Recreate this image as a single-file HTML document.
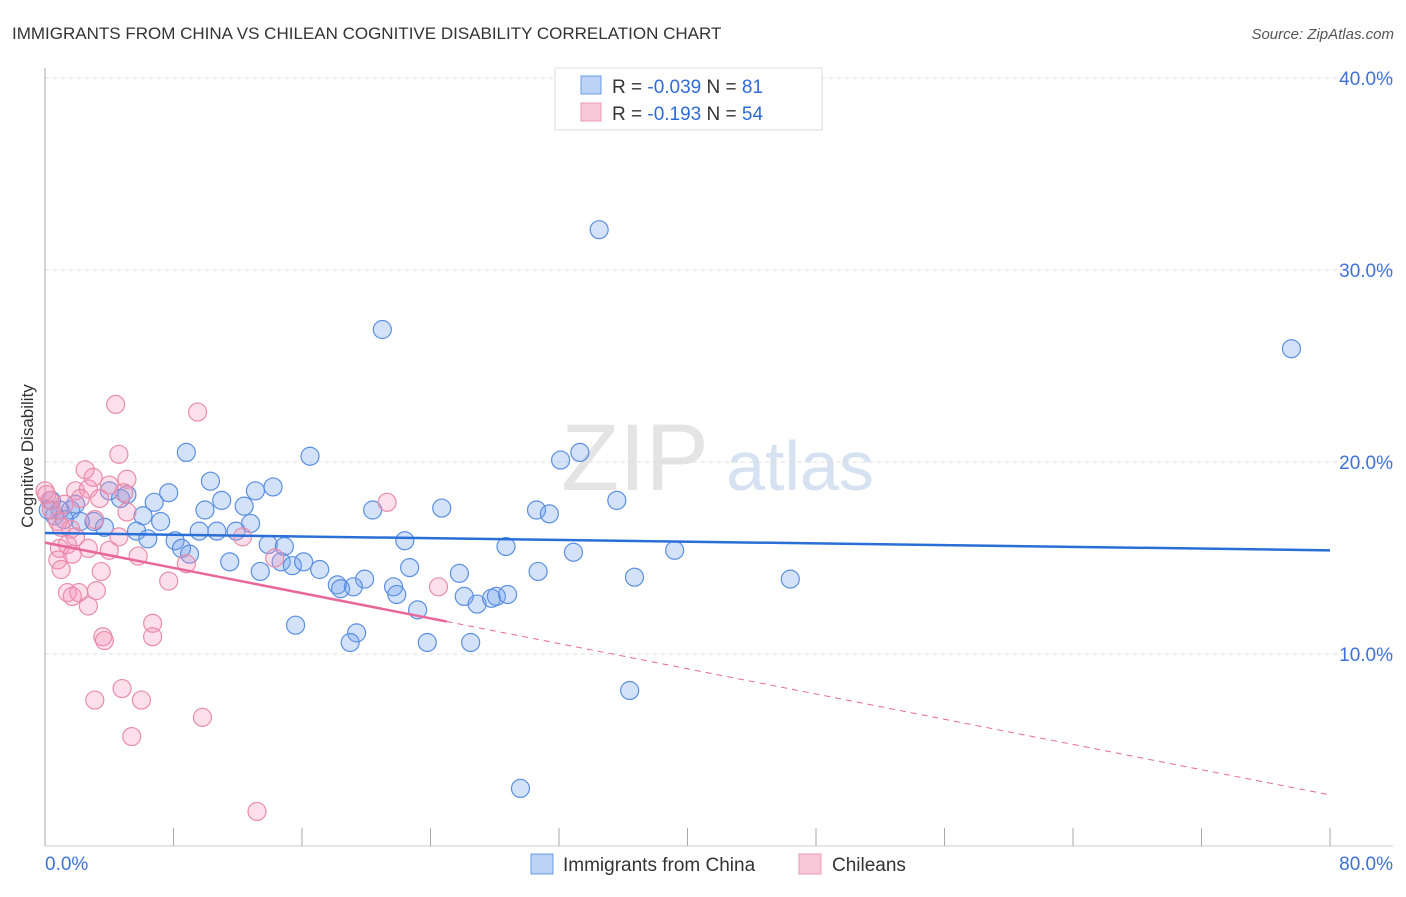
<!DOCTYPE html>
<html><head><meta charset="utf-8"><style>
body{margin:0;background:#fff;font-family:"Liberation Sans",sans-serif}
svg text{font-family:"Liberation Sans",sans-serif}
</style></head><body>
<svg id="chart" width="1406" height="892" xmlns="http://www.w3.org/2000/svg">
<text x="12" y="39" font-size="17" fill="#333">IMMIGRANTS FROM CHINA VS CHILEAN COGNITIVE DISABILITY CORRELATION CHART</text>
<text x="1394" y="39" font-size="15" fill="#555" font-style="italic" text-anchor="end">Source: ZipAtlas.com</text>
<text x="33" y="456" font-size="17" fill="#333" text-anchor="middle" transform="rotate(-90 33 456)">Cognitive Disability</text>
<g><text x="635" y="490" font-size="95" fill="#e4e4e4" font-family="Liberation Serif" text-anchor="middle">ZIP</text><text x="800" y="490" font-size="70" fill="#d6e2f2" text-anchor="middle">atlas</text></g>
<g id="grid"></g><g id="axes"></g><g id="marks"></g><g id="lines"></g>
<g>
<rect x="555" y="68" width="267" height="62" fill="#fff" stroke="#ddd"/>
<rect x="581" y="76" width="20" height="18" fill="#bcd3f5" stroke="#6a9be6"/>
<rect x="581" y="103" width="20" height="18" fill="#f9c8d8" stroke="#ea9ab4"/>
<text x="612" y="93" font-size="19" fill="#333">R = <tspan fill="#2f6bd6">-0.039</tspan>   N =  <tspan fill="#2f6bd6">81</tspan></text>
<text x="612" y="120" font-size="19" fill="#333">R =  <tspan fill="#2f6bd6">-0.193</tspan>   N = <tspan fill="#2f6bd6">54</tspan></text>
</g>
<g>
<rect x="531" y="854" width="22" height="20" fill="#bcd3f5" stroke="#6a9be6"/>
<text x="563" y="871" font-size="19" fill="#333">Immigrants from China</text>
<rect x="799" y="854" width="22" height="20" fill="#f9c8d8" stroke="#ea9ab4"/>
<text x="832" y="871" font-size="19" fill="#333">Chileans</text>
</g>
</svg>
<script>
const yTicks=[10,20,30,40];
const xTickLabels=["0.0%","80.0%"];
const chinaX=[34.5,77.6,21.0,8.8,16.5,32.1,33.3,35.6,10.3,14.2,13.1,7.7,5.1,4.7,6.8,11.0,12.4,9.96,20.4,24.7,30.6,31.4,6.1,7.2,12.8,9.6,10.7,11.9,5.7,3.7,3.05,2.2,1.6,0.93,0.4,0.6,6.4,8.1,8.5,9.0,13.9,14.9,22.4,28.7,32.9,39.2,11.5,14.7,15.4,16.1,13.4,17.1,19.9,22.7,25.8,30.7,36.7,46.4,18.2,18.4,19.2,21.7,21.9,26.1,26.9,27.8,28.1,28.8,23.2,15.6,19.4,19.0,23.8,26.5,36.4,29.6,0.2,1.2,1.9,4.0];
const chinaY=[32.1,25.9,26.9,20.5,20.3,20.1,20.5,18.0,19.0,18.7,18.5,18.4,18.3,18.1,17.9,18.0,17.7,17.5,17.5,17.6,17.5,17.3,17.2,16.9,16.8,16.4,16.4,16.4,16.4,16.6,16.9,16.9,17.5,17.5,18.0,17.2,16.0,15.9,15.5,15.2,15.7,15.6,15.9,15.6,15.3,15.4,14.8,14.8,14.6,14.8,14.3,14.4,13.9,14.5,14.2,14.3,14.0,13.9,13.6,13.4,13.5,13.5,13.1,13.0,12.6,12.9,13.0,13.1,12.3,11.5,11.1,10.6,10.6,10.6,8.1,3.0,17.5,17.0,17.8,18.5];
const chileX=[4.4,9.5,4.6,2.5,3.0,5.1,1.9,2.7,4.0,3.4,2.2,4.9,21.3,1.2,0.3,0.8,1.6,5.1,3.1,4.6,12.3,1.9,0.9,1.4,2.7,4.0,1.7,0.8,5.8,8.8,14.3,1.0,3.5,7.7,24.5,1.4,3.2,2.1,1.7,2.7,6.7,6.7,3.6,3.7,3.1,4.8,6.0,9.8,5.4,13.2,0.1,0.4,0.0,1.0];
const chileY=[23.0,22.6,20.4,19.6,19.2,19.1,18.5,18.6,18.8,18.1,18.1,18.4,17.9,17.8,18.0,16.9,16.5,17.4,17.0,16.1,16.1,16.1,15.5,15.7,15.5,15.4,15.2,14.9,15.1,14.7,15.0,14.4,14.3,13.8,13.5,13.2,13.3,13.2,13.0,12.5,11.6,10.9,10.9,10.7,7.6,8.2,7.6,6.7,5.7,1.8,18.3,17.5,18.5,16.6];
const chinaTrend=[16.3,15.4];      // value at x=0 and x=80
const chileTrend=[15.8,2.66];      // value at x=0 and x=80
const chileSolidEnd=25;
const NS='http://www.w3.org/2000/svg';
const X=v=>45+v/80*1285, Y=v=>846-v*19.2;
function mk(t,a,p){const e=document.createElementNS(NS,t);for(const k in a)e.setAttribute(k,a[k]);p.appendChild(e);return e;}
const grid=document.getElementById('grid'),axes=document.getElementById('axes'),marks=document.getElementById('marks'),lines=document.getElementById('lines');
yTicks.forEach(t=>{
 const l=mk('line',{x1:45,x2:1393,y1:Y(t),y2:Y(t),stroke:'#ddd','stroke-dasharray':'4 4'},grid);
 
 
 const tx=mk('text',{x:1393,y:Y(t)+7,'font-size':19,fill:'#3f72d8','text-anchor':'end'},axes);
 tx.textContent=t.toFixed(1)+'%';
 
 
});
const ax=mk('line',{x1:45,x2:45,y1:68,y2:846,stroke:'#aaa'},axes);


const bx=mk('line',{x1:45,x2:1393,y1:846,y2:846,stroke:'#ccc'},axes);


for(let v=0;v<=80;v+=8){const t=mk('line',{x1:X(v),x2:X(v),y1:828,y2:846,stroke:'#aaa'},axes);
 
 }
[[0,'start',45],[80,'end',1393]].forEach((d,i)=>{const t=mk('text',{x:d[2],y:870,'font-size':19,fill:'#3f72d8','text-anchor':d[1]},axes);t.textContent=xTickLabels[i];
 
 });
function pts(xs,ys,fill,stroke,name){xs.forEach((x,i)=>{const c=mk('circle',{cx:X(x),cy:Y(ys[i]),r:9,fill:fill,stroke:stroke,'stroke-width':1.2},marks);
 
 });}
pts(chinaX,chinaY,'rgba(110,160,235,0.3)','#5b8fe0','china-point');
pts(chileX,chileY,'rgba(245,150,185,0.3)','#e98cab','chilean-point');
const bl=mk('line',{x1:X(0),y1:Y(chinaTrend[0]),x2:X(80),y2:Y(chinaTrend[1]),stroke:'#2a6fd8','stroke-width':2.5},lines);


const cv=x=>chileTrend[0]+(chileTrend[1]-chileTrend[0])*x/80;
const pl=mk('line',{x1:X(0),y1:Y(cv(0)),x2:X(chileSolidEnd),y2:Y(cv(chileSolidEnd)),stroke:'#e8689a','stroke-width':2.5},lines);


const pd=mk('line',{x1:X(chileSolidEnd),y1:Y(cv(chileSolidEnd)),x2:X(80),y2:Y(cv(80)),stroke:'#e8689a','stroke-width':1,'stroke-dasharray':'6 5'},lines);


</script>
</body></html>
